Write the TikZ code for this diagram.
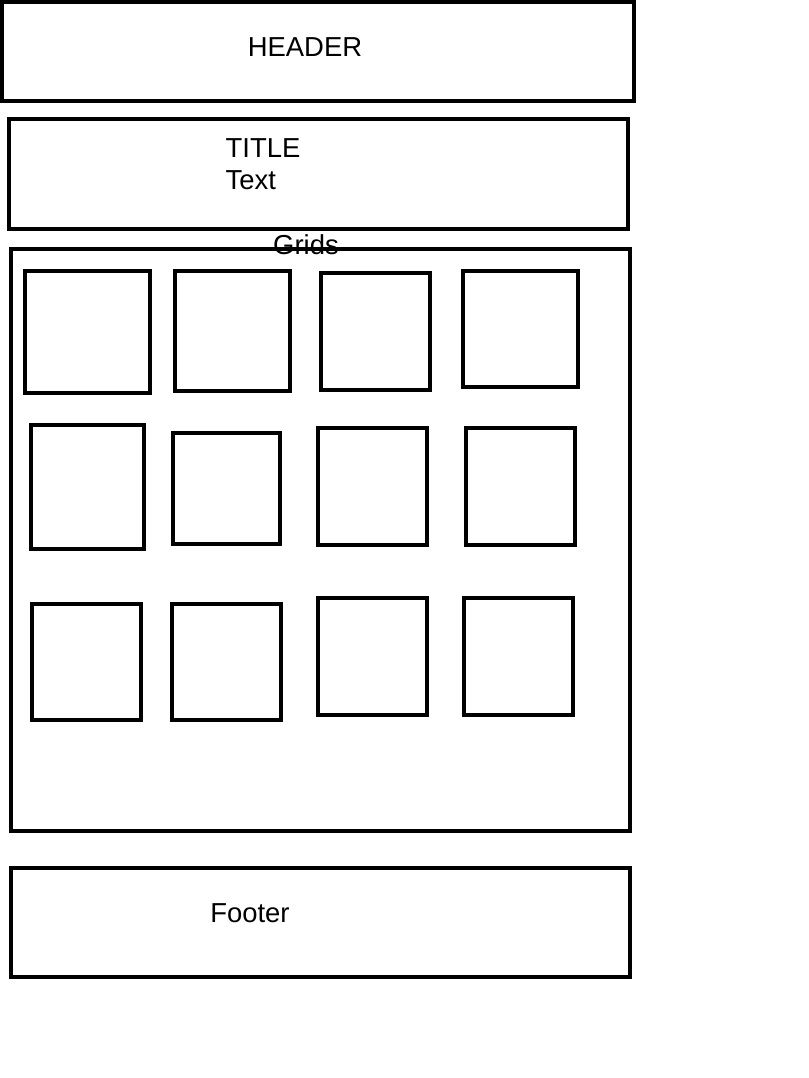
\documentclass[tikz,border=0pt]{standalone}
\usepackage{fontspec}
\setmainfont{Liberation Sans}
\usepackage{xcolor}
\usepackage{tikz}
\usetikzlibrary{calc}
\tikzset{
  frame/.style={draw=black, line width=1.14pt, line join=miter},
  cell/.style={draw=black, line width=1.14pt, line join=miter},
  lab/.style={text=black, font=\fontsize{7.8}{9.4}\selectfont, inner sep=0pt},
}

\begin{document}
\begin{tikzpicture}[x=0.01cm, y=-0.01cm]
  \useasboundingbox (0,0) rectangle (808,1078);

  % page blocks
  \draw[frame] (2,2) rectangle (634,101);
  \draw[frame] (9,119) rectangle (628,229);
  \draw[frame] (11,249) rectangle (630,831);
  \draw[frame] (11,868) rectangle (630,977);

  \node[lab] (header) at (305,47) {HEADER};
  \node[lab, anchor=west] (title) at (225,148) {TITLE};
  \node[lab, anchor=west] (text) at (225,180) {Text};
  \node[lab] (grids) at (306,245) {Grids};
  \node[lab] (footer) at (250,913) {Footer};

  % grid cells
  \foreach \xa/\ya/\xb/\yb in {25/271/150/393, 175/271/290/391, 321/273/430/390, 463/271/578/387,
                               31/425/144/549, 173/433/280/544, 318/428/427/545, 466/428/575/545,
                               32/604/141/720, 172/604/281/720, 318/598/427/715, 464/598/573/715}
    \draw[cell] (\xa,\ya) rectangle (\xb,\yb);
\end{tikzpicture}
\end{document}
